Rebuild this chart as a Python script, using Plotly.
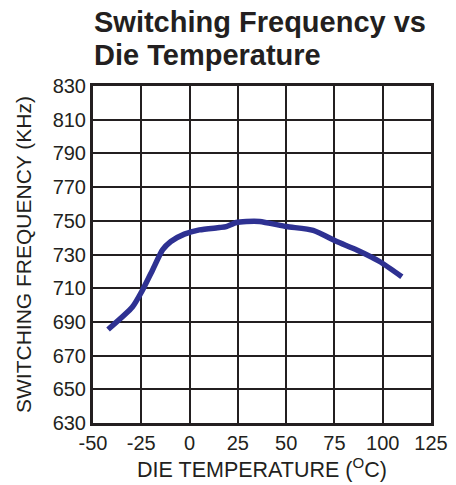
import plotly.graph_objects as go

temp_c = [-42.2, -29.6, -24.4, -19.2, -14.0, -9.7, -2.7, 5.1, 15.5, 19.0, 24.2, 29.4, 36.3, 50.2, 64.0, 76.2, 86.6, 98.6, 109.9]
freq_khz = [685.5, 698.8, 708.8, 720.7, 732.7, 737.7, 742.1, 744.6, 746.0, 746.6, 749.0, 749.6, 749.6, 746.6, 744.3, 737.7, 732.7, 725.7, 716.8]
x_ticks = [-50, -25, 0, 25, 50, 75, 100, 125]
x_tick_labels = ["-50", "-25", "0", "25", "50", "75", "100", "125"]
y_ticks = [630, 650, 670, 690, 710, 730, 750, 770, 790, 810, 830]
title_lines = ["Switching Frequency vs", "Die Temperature"]

FONT = "Liberation Sans, Arial, sans-serif"
INK = "#231f20"

fig = go.Figure()
fig.add_trace(go.Scatter(x=temp_c, y=freq_khz, mode="lines",
                         line=dict(color="#2e3192", width=5.5, shape="spline", smoothing=0.6),
                         showlegend=False, hoverinfo="skip"))

W, H = 456, 485
for i, line in enumerate(title_lines):
    fig.add_annotation(text="<b>%s</b>" % line, xref="paper", yref="paper",
                       x=0.0, xanchor="left", xshift=-1,
                       y=1.0, yanchor="bottom", yshift=46 - 33 * i,
                       showarrow=False, font=dict(family=FONT, size=29, color=INK))

fig.update_layout(
    width=W, height=H,
    margin=dict(l=93, r=25, t=86, b=62),
    paper_bgcolor="white", plot_bgcolor="white",
    font=dict(family=FONT, color=INK),
)
fig.update_xaxes(range=[-50, 125], tickvals=x_ticks, ticktext=x_tick_labels, ticks="",
                 tickfont=dict(size=20), showgrid=True, gridcolor=INK, gridwidth=1.5,
                 showline=True, linecolor=INK, linewidth=3, mirror=True, zeroline=False,
                 automargin=False,
                 title=dict(text="DIE TEMPERATURE (<sup>O</sup>C)", font=dict(size=21.5), standoff=6))
fig.update_yaxes(range=[630, 830], tickvals=y_ticks, ticks="",
                 tickfont=dict(size=20), showgrid=True, gridcolor=INK, gridwidth=1.5,
                 showline=True, linecolor=INK, linewidth=3, mirror=True, zeroline=False,
                 automargin=False,
                 title=dict(text="SWITCHING FREQUENCY (KHz)", font=dict(size=21), standoff=16))

fig.write_html("out.html", config={"displayModeBar": False},
               post_script="document.body.style.margin='0';document.body.style.overflow='hidden';")
